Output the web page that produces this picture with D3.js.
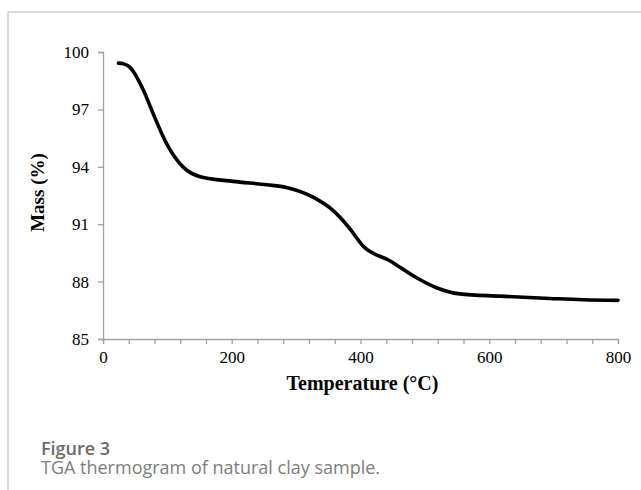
<!DOCTYPE html>
<html>
<head>
<meta charset="utf-8">
<script src="https://cdn.jsdelivr.net/npm/d3@7"></script>
<style>
  body { margin: 0; background: #fff; }
  .tick text { font-family: "Liberation Serif", "Times New Roman", serif; font-size: 17px; fill: #000; }
  .axis-title { font-family: "Liberation Serif", "Times New Roman", serif; font-weight: bold; fill: #000; }
  .cap-head { font-family: "Open Sans", sans-serif; font-size: 18px; font-weight: 600; fill: #6b6b6b; }
  .cap-text { font-family: "Open Sans", sans-serif; font-size: 18px; fill: #7d7d7d; }
</style>
</head>
<body>
<svg width="641" height="490"></svg>
<script>
// TGA curve
const temps = [24, 32, 42, 63, 78, 99, 125, 151, 202, 254, 285, 327, 358, 371, 384, 404, 446, 487, 518, 554, 617, 694, 746, 800];
const mass = [99.42, 99.38, 99.2, 97.99, 96.77, 95.2, 93.97, 93.48, 93.24, 93.06, 92.92, 92.4, 91.7, 91.26, 90.74, 89.86, 89.08, 88.2, 87.68, 87.36, 87.24, 87.12, 87.05, 87.02];
const yTicks = [85, 88, 91, 94, 97, 100];
const xTicks = d3.range(0, 801, 40);

const svg = d3.select('svg');
const width = +svg.attr('width');
const height = +svg.attr('height');

const margin = { top: 52, left: 103, right: 23, bottom: 151 };
const innerWidth = width - margin.left - margin.right;
const innerHeight = height - margin.top - margin.bottom;

// panel frame (left + top edges)
svg.append('path')
    .attr('d', `M8,${height} V12 H${width}`)
    .attr('fill', 'none')
    .attr('stroke', '#cfcfcf')
    .attr('stroke-width', 1.5);

const xScale = d3.scaleLinear().domain([0, 800]).range([0, innerWidth]);
const yScale = d3.scaleLinear().domain([85, 100]).range([innerHeight, 0]);

const g = svg.append('g')
    .attr('transform', `translate(${margin.left},${margin.top})`);

const yAxisGroup = g.append('g')
    .call(d3.axisLeft(yScale).tickValues(yTicks).tickSize(5).tickPadding(9));

const xAxisGroup = g.append('g')
    .attr('transform', `translate(0,${innerHeight})`)
    .call(d3.axisBottom(xScale)
        .tickValues(xTicks)
        .tickSize(5)
        .tickPadding(7)
        .tickFormat(d => d % 200 === 0 ? d : ''));

// minor ticks carry no label
xAxisGroup.selectAll('.tick text').filter(d => d % 200 !== 0).remove();

[yAxisGroup, xAxisGroup].forEach(ax => {
    ax.attr('font-family', null).attr('font-size', null);
    ax.selectAll('.domain, .tick line').attr('stroke', '#a3a3a3').attr('stroke-width', 1.3);
});

const data = temps.map((t, i) => ({ t, m: mass[i] }));

const line = d3.line()
    .x(d => xScale(d.t))
    .y(d => yScale(d.m))
    .curve(d3.curveMonotoneX);

g.append('path')
    .datum(data)
    .attr('d', line)
    .attr('fill', 'none')
    .attr('stroke', '#000')
    .attr('stroke-width', 3.6)
    .attr('stroke-linecap', 'round')
    .attr('stroke-linejoin', 'round');

g.append('text')
    .attr('class', 'axis-title')
    .attr('font-size', 20)
    .attr('x', innerWidth / 2 + 2)
    .attr('y', innerHeight + 51)
    .attr('text-anchor', 'middle')
    .text('Temperature (°C)');

g.append('text')
    .attr('class', 'axis-title')
    .attr('font-size', 19)
    .attr('transform', `translate(${-margin.left + 44},${innerHeight / 2 - 3}) rotate(-90)`)
    .attr('text-anchor', 'middle')
    .text('Mass (%)');

svg.append('text')
    .attr('class', 'cap-head')
    .attr('x', 41)
    .attr('y', 455)
    .text('Figure 3');

svg.append('text')
    .attr('class', 'cap-text')
    .attr('x', 41)
    .attr('y', 474)
    .text('TGA thermogram of natural clay sample.');
</script>
</body>
</html>
